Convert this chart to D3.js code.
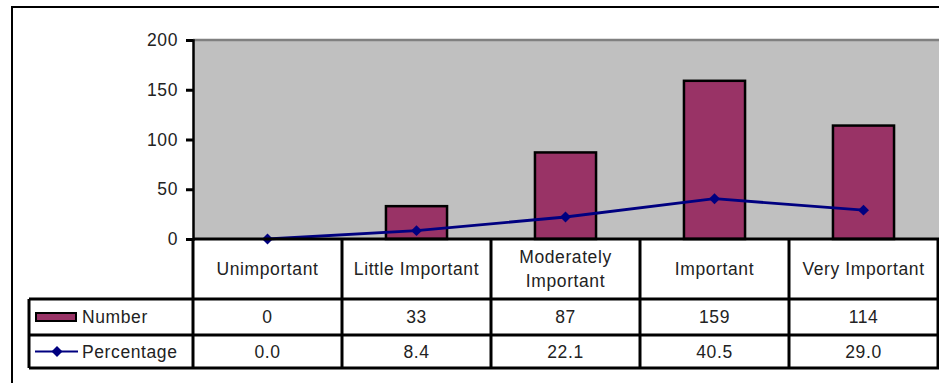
<!DOCTYPE html>
<html>
<head>
<meta charset="utf-8">
<script src="https://cdn.jsdelivr.net/npm/d3@7"></script>
<style>
  html, body { margin: 0; padding: 0; background: #fff; }
  svg { display: block; font-family: "Liberation Sans", Arial, sans-serif; }
</style>
</head>
<body>
<svg id="chart" width="939" height="383"></svg>
<script>
// Survey responses: importance rating
const categories = ["Unimportant", "Little Important", "Moderately Important", "Important", "Very Important"];
const categoryLines = [["Unimportant"], ["Little Important"], ["Moderately", "Important"], ["Important"], ["Very Important"]];
const numberValues = [0, 33, 87, 159, 114];
const percentValues = [0.0, 8.4, 22.1, 40.5, 29.0];
const yTicks = [0, 50, 100, 150, 200];
const seriesNames = ["Number", "Percentage"];

const barColor = "#993366";
const lineColor = "#000080";
const plotBg = "#c0c0c0";
const textColor = "#222";
const fontSize = 17.5;
const spacing = "0.6px";

const svg = d3.select("#chart");

// Layout
const plotLeft = 193, plotRight = 938, plotTop = 40, plotBottom = 239;
const headerBottom = 299, numberRowBottom = 335, pctRowBottom = 368;
const legendLeft = 29;

const x = d3.scaleBand().domain(categories).range([plotLeft, plotRight]).padding(0);
const y = d3.scaleLinear().domain([0, 200]).range([plotBottom, plotTop]);

// Outer frame
svg.append("rect")
  .attr("x", 12).attr("y", 7).attr("width", 960).attr("height", 420)
  .attr("fill", "none").attr("stroke", "#000").attr("stroke-width", 2);

// Plot area
svg.append("rect")
  .attr("x", plotLeft).attr("y", plotTop)
  .attr("width", plotRight - plotLeft + 10).attr("height", plotBottom - plotTop)
  .attr("fill", plotBg);
svg.append("line")
  .attr("x1", plotLeft).attr("x2", 945).attr("y1", plotTop).attr("y2", plotTop)
  .attr("stroke", "#808080").attr("stroke-width", 2.5);

// Bars
const barW = x.bandwidth() * 0.41;
svg.append("g").selectAll("rect")
  .data(categories)
  .join("rect")
  .attr("x", (d) => x(d) + (x.bandwidth() - barW) / 2)
  .attr("y", (d, i) => y(numberValues[i]))
  .attr("width", barW)
  .attr("height", (d, i) => y(0) - y(numberValues[i]))
  .attr("fill", barColor)
  .attr("stroke", "#000")
  .attr("stroke-width", 2.5)
  .attr("display", (d, i) => numberValues[i] > 0 ? null : "none");

// Percentage line on the same axis
const line = d3.line()
  .x((d, i) => x(categories[i]) + x.bandwidth() / 2)
  .y((d) => y(d));
svg.append("path")
  .datum(percentValues)
  .attr("d", line)
  .attr("fill", "none")
  .attr("stroke", lineColor)
  .attr("stroke-width", 2.8);

const diamond = d3.symbol().type(d3.symbolSquare).size(60);
svg.append("g").selectAll("path")
  .data(percentValues)
  .join("path")
  .attr("d", diamond)
  .attr("transform", (d, i) => `translate(${x(categories[i]) + x.bandwidth() / 2},${y(d)}) rotate(45)`)
  .attr("fill", lineColor);

// Y axis
const yAxis = d3.axisLeft(y).tickValues(yTicks).tickSize(7).tickPadding(8);
const gy = svg.append("g").attr("transform", `translate(${plotLeft},0)`).call(yAxis);
gy.select(".domain").attr("stroke", "#000").attr("stroke-width", 2.5);
gy.selectAll(".tick line").attr("stroke", "#000").attr("stroke-width", 3);
gy.selectAll(".tick text")
  .attr("font-size", fontSize).attr("fill", textColor)
  .attr("letter-spacing", spacing)
  .attr("font-family", "'Liberation Sans', Arial, sans-serif");

// Data table
const tbl = svg.append("g");
const cellLine = (x1, y1, x2, y2) => tbl.append("line")
  .attr("x1", x1).attr("y1", y1).attr("x2", x2).attr("y2", y2)
  .attr("stroke", "#000").attr("stroke-width", 3);

// Header row (category names)
cellLine(plotLeft, plotBottom, plotRight + 5, plotBottom);
categories.forEach((c) => cellLine(x(c), plotBottom, x(c), pctRowBottom));
cellLine(plotRight, plotBottom, plotRight, pctRowBottom);
// Rows with legend column
[headerBottom, numberRowBottom, pctRowBottom].forEach((yy) => cellLine(legendLeft, yy, plotRight + 5, yy));
cellLine(legendLeft, headerBottom, legendLeft, pctRowBottom);

const textG = svg.append("g")
  .attr("font-size", fontSize).attr("fill", textColor)
  .attr("letter-spacing", spacing).attr("text-anchor", "middle");
categoryLines.forEach((lines, i) => {
  const cx = x(categories[i]) + x.bandwidth() / 2;
  const mid = (plotBottom + headerBottom) / 2;
  lines.forEach((ln, j) => {
    textG.append("text")
      .attr("x", cx)
      .attr("y", mid + (j - (lines.length - 1) / 2) * 24)
      .attr("dy", "0.35em")
      .text(ln);
  });
});
numberValues.forEach((v, i) => {
  textG.append("text")
    .attr("x", x(categories[i]) + x.bandwidth() / 2)
    .attr("y", (headerBottom + numberRowBottom) / 2)
    .attr("dy", "0.35em")
    .text(d3.format("d")(v));
});
percentValues.forEach((v, i) => {
  textG.append("text")
    .attr("x", x(categories[i]) + x.bandwidth() / 2)
    .attr("y", (numberRowBottom + pctRowBottom) / 2)
    .attr("dy", "0.35em")
    .text(d3.format(".1f")(v));
});

// Legend keys in the first column
const numMid = (headerBottom + numberRowBottom) / 2;
const pctMid = (numberRowBottom + pctRowBottom) / 2;
svg.append("rect")
  .attr("x", 36).attr("y", numMid - 4).attr("width", 40).attr("height", 8)
  .attr("fill", barColor).attr("stroke", "#000").attr("stroke-width", 2);
svg.append("text")
  .attr("x", 82).attr("y", numMid).attr("dy", "0.35em")
  .attr("font-size", fontSize).attr("letter-spacing", spacing)
  .attr("fill", textColor).text(seriesNames[0]);
svg.append("line")
  .attr("x1", 35).attr("x2", 78).attr("y1", pctMid).attr("y2", pctMid)
  .attr("stroke", lineColor).attr("stroke-width", 2);
svg.append("path")
  .attr("d", diamond)
  .attr("transform", `translate(57,${pctMid}) rotate(45)`)
  .attr("fill", lineColor);
svg.append("text")
  .attr("x", 82).attr("y", pctMid).attr("dy", "0.35em")
  .attr("font-size", fontSize).attr("letter-spacing", spacing)
  .attr("fill", textColor).text(seriesNames[1]);
</script>
</body>
</html>
